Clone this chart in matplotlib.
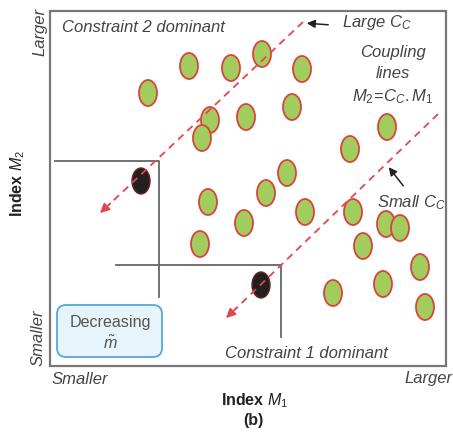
import matplotlib.pyplot as plt
from matplotlib.patches import Ellipse, Rectangle, FancyBboxPatch

plt.rcParams['font.family'] = ['Liberation Sans', 'DejaVu Sans']
plt.rcParams['mathtext.fontset'] = 'custom'
plt.rcParams['mathtext.rm'] = 'Liberation Sans'
plt.rcParams['mathtext.it'] = 'Liberation Sans:italic'
plt.rcParams['mathtext.bf'] = 'Liberation Sans:bold'
plt.rcParams['mathtext.bfit'] = 'Liberation Sans:italic:bold'

# design points (pixel positions of the sketch)
gx = [148, 189, 231, 262, 302, 210, 202, 246, 292, 387, 350, 287, 266, 208, 244,
      305, 200, 353, 386, 400, 363, 420, 383, 333, 425]
gy = [93, 66, 68, 54, 69, 120, 138, 117, 107, 127, 149, 173, 193, 202, 223,
      212, 244, 212, 224, 228, 246, 267, 284, 293, 307]
# optimum points
bx = [141, 261]
by = [181, 285]

# coupling lines (start, arrow tip)
large_cc = [(303, 22), (98, 215)]
small_cc = [(438, 114), (224, 320)]

# constraint corner lines
corner1 = [(55, 161), (159, 161), (159, 297)]
corner2 = [(116, 265), (281, 265), (281, 337)]

fig = plt.figure(figsize=(4.53, 4.37), dpi=100)
ax = fig.add_axes([0, 0, 1, 1])
ax.set_xlim(0, 453)
ax.set_ylim(437, 0)
ax.axis('off')

ax.add_patch(Rectangle((50, 11), 396, 355, fill=False, ec='#777777', lw=1.6))

for c in (corner1, corner2):
    ax.plot([p[0] for p in c], [p[1] for p in c], color='#666666', lw=1.3)

red = '#e2474f'
for (x0, y0), (x1, y1) in (large_cc, small_cc):
    ax.plot([x0, x0 + (x1 - x0) * 0.95], [y0, y0 + (y1 - y0) * 0.95],
            color=red, lw=1.3, ls=(0, (4, 3)))
    ax.annotate('', xy=(x1, y1), xytext=(x0 + (x1 - x0) * 0.93, y0 + (y1 - y0) * 0.93),
                arrowprops=dict(arrowstyle='-|>', color=red, lw=1.2, mutation_scale=14))

for x, y in zip(gx, gy):
    ax.add_patch(Ellipse((x, y), 18, 26, fc='#a3cc5f', ec='#d9443a', lw=1.3))
for x, y in zip(bx, by):
    ax.add_patch(Ellipse((x, y), 18, 26, fc='#231f20', ec='#6a2422', lw=1.0))

tc = '#444444'
fs = 12
ax.text(62, 27, 'Constraint 2 dominant', fontsize=fs, style='italic', color=tc, va='center')
ax.text(225, 353, 'Constraint 1 dominant', fontsize=fs, style='italic', color=tc, va='center')
ax.text(342, 22, 'Large $C_C$', fontsize=fs, style='italic', color=tc, va='center')
ax.text(377, 203, 'Small $C_C$', fontsize=fs, style='italic', color=tc, va='center')
ax.text(393, 53, 'Coupling', fontsize=fs, style='italic', color=tc, ha='center', va='center')
ax.text(393, 74, 'lines', fontsize=fs, style='italic', color=tc, ha='center', va='center')
ax.text(393, 97, '$M_2\\!=\\!C_C.M_1$', fontsize=fs, color=tc, ha='center', va='center')

ax.annotate('', xy=(304, 23), xytext=(331, 25),
            arrowprops=dict(arrowstyle='-|>', color='#222222', lw=1.1, mutation_scale=12))
ax.annotate('', xy=(387, 165), xytext=(405, 188),
            arrowprops=dict(arrowstyle='-|>', color='#222222', lw=1.1, mutation_scale=12))

ax.add_patch(FancyBboxPatch((57, 305), 105, 52, boxstyle='round,pad=0,rounding_size=9',
                            fc='#e7f4fb', ec='#55a8dc', lw=1.3))
ax.text(110, 323, 'Decreasing', fontsize=11.6, color='#555555', ha='center', va='center')
ax.text(110, 343, r'$\tilde{m}$', fontsize=11.6, color='#555555', ha='center', va='center')

ax.text(40, 32, 'Larger', fontsize=fs, style='italic', color=tc, rotation=90, ha='center', va='center')
ax.text(38, 338, 'Smaller', fontsize=fs, style='italic', color=tc, rotation=90, ha='center', va='center')
ax.text(80, 379, 'Smaller', fontsize=fs, style='italic', color=tc, ha='center', va='center')
ax.text(428, 378, 'Larger', fontsize=fs, style='italic', color=tc, ha='center', va='center')
ax.text(255, 401, 'Index $\\boldsymbol{M_1}$', fontsize=11.5, weight='bold', color='#222222', ha='center', va='center')
ax.text(253, 421, '(b)', fontsize=11.5, weight='bold', color='#222222', ha='center', va='center')
ax.text(18, 183, 'Index $\\boldsymbol{M_2}$', fontsize=11.5, weight='bold', color='#222222',
        rotation=90, ha='center', va='center')

fig.savefig('out.png', dpi=100)
